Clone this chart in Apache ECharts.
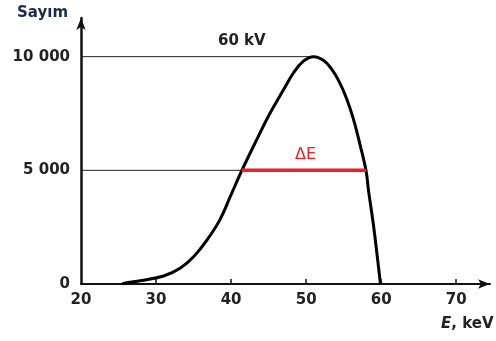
<!DOCTYPE html>
<html><head><meta charset="utf-8">
<script src="https://cdn.jsdelivr.net/npm/echarts@6/dist/echarts.min.js"></script>
<style>html,body{margin:0;padding:0;background:#fff}#c{width:496px;height:341px}</style>
</head><body><div id="c"></div>
<script>
// Spectrum of 60 kV tube (energy in keV, counts)
const energy = [25.5, 26.1, 27.9, 31.0, 33.2, 35.0, 36.8, 38.5, 39.9, 41.3, 43.4, 45.2, 47.0, 48.3, 49.6, 51.0, 52.3, 53.4, 54.4, 55.4, 56.3, 57.2, 58.0, 58.3, 59.0, 59.9];
const counts = [0, 57, 145, 352, 692, 1200, 1940, 2820, 3850, 4900, 6340, 7520, 8550, 9280, 9790, 10000, 9840, 9450, 8900, 8150, 7250, 6100, 4950, 4140, 2520, 0];
const peakRefX = [20, 51.0];   // horizontal reference line at 10 000
const peakRefY = [10000, 10000];
const halfRefX = [20, 41.4];   // horizontal reference line at 5 000
const halfRefY = [5000, 5000];
const fwhmX = [41.4, 58.0];    // ΔE bar
const fwhmY = [5000, 5000];
const xTicks = [20, 30, 40, 50, 60, 70];
const yTicks = [0, 5000, 10000];

const zip = (a, b) => a.map((v, i) => [v, b[i]]);
const chart = echarts.init(document.getElementById('c'));
const fmtY = v => String(v).replace(/\B(?=(\d{3})+(?!\d))/g, ' ');
const FONT = '"DejaVu Sans"';
chart.setOption({
  animation: false,
  grid: { left: 81, right: 6, top: 18, bottom: 57 },
  xAxis: {
    type: 'value', min: 20, max: 74.5,
    axisLine: { lineStyle: { color: '#111', width: 2 }, symbol: ['none', 'arrow'], symbolSize: [7, 12] },
    axisTick: { inside: true, length: 5, lineStyle: { color: '#111', width: 1.5 }, customValues: xTicks.slice(1) },
    axisLabel: { customValues: xTicks, color: '#222', fontSize: 15, fontWeight: 'bold', fontFamily: FONT, margin: 9 },
    splitLine: { show: false }
  },
  yAxis: {
    type: 'value', min: 0, max: 11700,
    axisLine: { show: true, lineStyle: { color: '#111', width: 2.5 }, symbol: ['none', 'arrow'], symbolSize: [7, 12] },
    axisTick: { show: false },
    axisLabel: { customValues: yTicks, formatter: fmtY, color: '#222', fontSize: 15, fontWeight: 'bold', fontFamily: FONT, margin: 11 },
    splitLine: { show: false }
  },
  series: [
    { type: 'line', data: zip(peakRefX, peakRefY), symbol: 'none', lineStyle: { color: '#222', width: 1 } },
    { type: 'line', data: zip(halfRefX, halfRefY), symbol: 'none', lineStyle: { color: '#222', width: 1 } },
    { type: 'line', data: zip(energy, counts), symbol: 'none', smooth: 0.4, lineStyle: { color: '#000', width: 3 }, z: 3 },
    { type: 'line', data: zip(fwhmX, fwhmY), symbol: 'none', lineStyle: { color: '#e8212b', width: 3.5 }, z: 4 }
  ],
  graphic: [
    { type: 'text', left: 17, top: 6, style: { text: 'Sayım', fill: '#1c2b4d', font: 'bold 15px "DejaVu Sans"' } },
    { type: 'text', left: 218, top: 34, style: { text: '60 kV', fill: '#222', font: 'bold 15px "DejaVu Sans"' } },
    { type: 'text', left: 295, top: 147, style: { text: 'ΔE', fill: '#e8212b', font: '16px "DejaVu Sans"' } },
    { type: 'text', left: 441, top: 317, style: {
      text: '{i|E}{n|, keV}',
      rich: { i: { font: 'italic bold 15px "DejaVu Sans"', fill: '#222' }, n: { font: 'bold 15px "DejaVu Sans"', fill: '#222' } }
    } }
  ]
});
</script></body></html>
